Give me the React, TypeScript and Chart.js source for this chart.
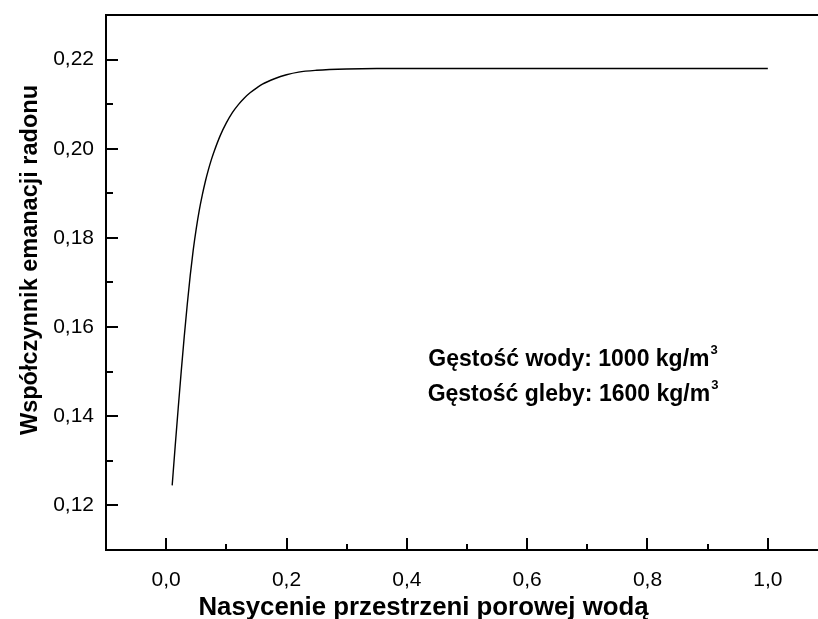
import React, { useEffect, useRef } from "react";
import { Chart, registerables } from "chart.js";

Chart.register(...registerables);

// ---- data ----
const saturation = [
  0.01, 0.015, 0.02, 0.025, 0.03, 0.035, 0.04, 0.045, 0.05, 0.055, 0.06, 0.065,
  0.07, 0.075, 0.08, 0.09, 0.1, 0.11, 0.12, 0.13, 0.14, 0.15, 0.16, 0.18, 0.2,
  0.22, 0.25, 0.3, 0.35, 0.4, 0.5, 0.6, 0.7, 0.8, 0.9, 1.0,
];
const emanation = [
  0.1245, 0.1333, 0.1418, 0.15, 0.1578, 0.165, 0.1716, 0.1773, 0.1821, 0.1862,
  0.1896, 0.1926, 0.1952, 0.1975, 0.1995, 0.203, 0.2058, 0.2081, 0.2099,
  0.2114, 0.2126, 0.2136, 0.2145, 0.2157, 0.2166, 0.2172, 0.2176, 0.2179,
  0.218, 0.218, 0.218, 0.218, 0.218, 0.218, 0.218, 0.218,
];
const xMajorTicks = [0, 0.2, 0.4, 0.6, 0.8, 1.0];
const xMinorTicks = [0.1, 0.3, 0.5, 0.7, 0.9];
const yMajorTicks = [0.12, 0.14, 0.16, 0.18, 0.2, 0.22];
const yMinorTicks = [0.13, 0.15, 0.17, 0.19, 0.21];
const xTitle = "Nasycenie przestrzeni porowej wodą";
const yTitle = "Współczynnik emanacji radonu";
const noteLines = ["Gęstość wody: 1000 kg/m", "Gęstość gleby: 1600 kg/m"];
const noteSup = "3";

const FONT = "'Liberation Sans', Arial, Helvetica, sans-serif";

const framePlugin = {
  id: "originFrame",
  afterDraw(chart: any) {
    const ctx = chart.ctx as CanvasRenderingContext2D;
    const { left, top, right, bottom } = chart.chartArea;
    const xs = chart.scales.x;
    const ys = chart.scales.y;
    ctx.save();
    ctx.strokeStyle = "#000";
    ctx.lineWidth = 2;
    ctx.beginPath();
    ctx.moveTo(left - 1, top);
    ctx.lineTo(right, top);
    ctx.stroke();
    // inward ticks
    ctx.beginPath();
    xMajorTicks.forEach((v) => {
      const p = Math.round(xs.getPixelForValue(v));
      ctx.moveTo(p, bottom);
      ctx.lineTo(p, bottom - 12);
    });
    xMinorTicks.forEach((v) => {
      const p = Math.round(xs.getPixelForValue(v));
      ctx.moveTo(p, bottom);
      ctx.lineTo(p, bottom - 6);
    });
    yMajorTicks.forEach((v) => {
      const p = Math.round(ys.getPixelForValue(v));
      ctx.moveTo(left, p);
      ctx.lineTo(left + 12, p);
    });
    yMinorTicks.forEach((v) => {
      const p = Math.round(ys.getPixelForValue(v));
      ctx.moveTo(left, p);
      ctx.lineTo(left + 7, p);
    });
    ctx.stroke();

    // titles
    ctx.fillStyle = "#000";
    ctx.textAlign = "center";
    ctx.textBaseline = "alphabetic";
    ctx.font = `bold 25.8px ${FONT}`;
    ctx.fillText(xTitle, 423.5, 615);
    ctx.save();
    ctx.translate(37, 260);
    ctx.rotate(-Math.PI / 2);
    ctx.font = `bold 23.5px ${FONT}`;
    ctx.fillText(yTitle, 0, 0);
    ctx.restore();

    // annotation
    const cx = 573;
    const baselines = [366, 401];
    noteLines.forEach((line, i) => {
      ctx.font = `bold 23px ${FONT}`;
      const w = ctx.measureText(line).width;
      ctx.font = `bold 13px ${FONT}`;
      const sw = ctx.measureText(noteSup).width;
      const x0 = cx - (w + sw + 1) / 2;
      ctx.textAlign = "left";
      ctx.font = `bold 23px ${FONT}`;
      ctx.fillText(line, x0, baselines[i]);
      ctx.font = `bold 13px ${FONT}`;
      ctx.fillText(noteSup, x0 + w + 1, baselines[i] - 12);
    });
    ctx.restore();
  },
};

export default function App() {
  const ref = useRef<HTMLCanvasElement | null>(null);
  useEffect(() => {
    if (!ref.current) return;
    const chart = new Chart(ref.current, {
      type: "line",
      data: {
        datasets: [
          {
            data: saturation.map((x, i) => ({ x, y: emanation[i] })),
            borderColor: "#000",
            borderWidth: 1.4,
            pointRadius: 0,
            cubicInterpolationMode: "monotone",
            fill: false,
          },
        ],
      },
      options: {
        responsive: false,
        animation: false,
        devicePixelRatio: 1,
        layout: { padding: { top: 15, left: 0, right: 0, bottom: 0 } },
        plugins: { legend: { display: false }, tooltip: { enabled: false } },
        scales: {
          x: {
            type: "linear",
            min: -0.1,
            max: 1.1,
            afterBuildTicks: (s: any) => {
              s.ticks = xMajorTicks.map((value) => ({ value }));
            },
            afterFit: (s: any) => {
              s.height = 69;
              s.paddingLeft = 0;
              s.paddingRight = 0;
            },
            grid: { display: false, drawTicks: false },
            border: { display: true, color: "#000", width: 2 },
            ticks: {
              color: "#000",
              padding: 18,
              maxRotation: 0,
              font: { family: FONT, size: 21 },
              callback: (v: any) => Number(v).toFixed(1).replace(".", ","),
            },
          },
          y: {
            type: "linear",
            min: 0.11,
            max: 0.23,
            afterBuildTicks: (s: any) => {
              s.ticks = yMajorTicks.map((value) => ({ value }));
            },
            afterFit: (s: any) => {
              s.width = 106;
              s.paddingTop = 0;
              s.paddingBottom = 0;
            },
            grid: { display: false, drawTicks: false },
            border: { display: true, color: "#000", width: 2 },
            ticks: {
              color: "#000",
              padding: 12,
              font: { family: FONT, size: 21 },
              callback: (v: any) => Number(v).toFixed(2).replace(".", ","),
            },
          },
        },
      },
      plugins: [framePlugin],
    } as any);
    return () => chart.destroy();
  }, []);
  return (
    <div
      style={{
        position: "fixed",
        left: 0,
        top: 0,
        width: 818,
        height: 619,
        overflow: "hidden",
        background: "#fff",
      }}
    >
      <canvas ref={ref} width={828} height={619} style={{ display: "block" }} />
    </div>
  );
}
